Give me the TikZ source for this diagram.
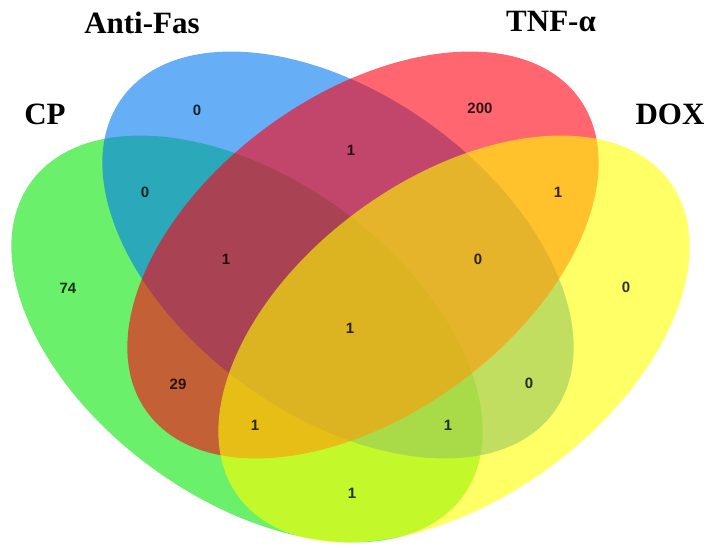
\documentclass[tikz,border=0pt]{standalone}
\usepackage{fontspec}
\setmainfont{Liberation Serif}
\setsansfont{Liberation Sans}
\definecolor{cpgreen}{RGB}{8,230,8}
\definecolor{fasblue}{RGB}{0,120,238}
\definecolor{tnfred}{RGB}{255,0,17}
\definecolor{doxyellow}{RGB}{255,255,0}
\tikzset{setfill/.style={fill=#1,fill opacity=0.6,draw=none},
  setname/.style={font=\fontsize{31}{31}\selectfont\bfseries,anchor=base,inner sep=0pt},
  count/.style={font=\fontsize{15}{15}\selectfont\sffamily\bfseries,text=black,text opacity=0.8,inner sep=0pt}}

\begin{document}
\begin{tikzpicture}[x=1pt,y=1pt]
\useasboundingbox (0,0) rectangle (709,547);
% the four sets, drawn in this order
\fill[setfill=cpgreen,rotate around={-36:(247,208)}] (247,208) ellipse [x radius=267,y radius=160];
\fill[setfill=fasblue,rotate around={-36:(338,292)}] (338,292) ellipse [x radius=267,y radius=160];
\fill[setfill=tnfred,rotate around={36:(363,292)}] (363,292) ellipse [x radius=267,y radius=160];
\fill[setfill=doxyellow,rotate around={36:(454,208)}] (454,208) ellipse [x radius=267,y radius=160];
% set names
\node[setname] (cp) at (45,422) {CP};
\node[setname] (antifas) at (142,513) {Anti-Fas};
\node[setname] (tnf) at (551,515) {TNF-α};
\node[setname] (dox) at (670,422) {DOX};
% region counts
\foreach \x/\y/\v [count=\i] in {68/259/74,197/437/0,145/355/0,351/397/1,480/439/200,
  626/260/0,558/355/1,478/288/0,226/288/1,350/219/1,178/163/29,529/164/0,
  255/122/1,448/122/1,352/54/1}
  \node[count] (n\i) at (\x,\y) {\v};
\end{tikzpicture}
\end{document}
